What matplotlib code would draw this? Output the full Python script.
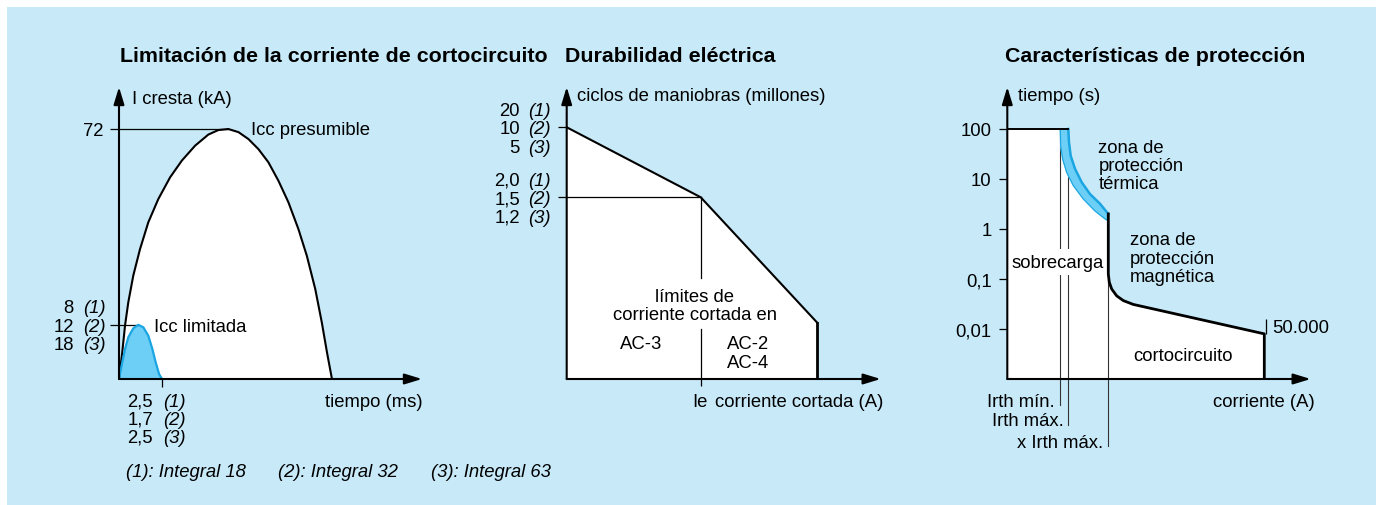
import matplotlib
matplotlib.use('Agg')
import matplotlib.pyplot as plt
from matplotlib import markers
from matplotlib.patches import Rectangle

W, H = 1382, 506
plt.rcParams['font.family'] = ['Liberation Sans', 'DejaVu Sans']

FS = 13.3      # regular text
FT = 15.4      # titles
BG = '#c7e9f8'
FILL = '#6dcff6'
EDGE = '#1ba6e2'
ROW_DY = [12.5, -6, -24.5]   # three stacked label rows around a tick (pixels)

# --- chart 1: limitación de la corriente de cortocircuito (ms / kA)
t_presumed = [0, 0.19, 0.35, 0.54, 0.83, 1.22, 1.70, 2.28, 2.97, 3.65, 4.42, 5.19, 5.77,
              6.35, 6.94, 7.52, 8.10, 8.68, 9.26, 9.84, 10.42, 10.91, 11.40, 11.78,
              12.08, 12.37]
i_presumed = [0, 7.7, 15.4, 22.1, 29.8, 37.4, 45.1, 51.8, 58.1, 62.9, 67.2, 70.4, 71.7,
              72.0, 71.1, 69.1, 66.2, 62.4, 57.1, 50.9, 43.2, 35.5, 25.9, 16.3, 7.7, 0]
t_limited = [0, 0.19, 0.35, 0.54, 0.83, 1.12, 1.41, 1.70, 1.94, 2.13, 2.33, 2.50]
i_limited = [0, 4.8, 8.6, 12.0, 14.6, 15.6, 14.9, 12.5, 8.6, 4.8, 1.4, 0]
peak_labels = ['8', '12', '18']
cut_labels = ['2,5', '1,7', '2,5']
ref_labels = ['(1)', '(2)', '(3)']
footnotes = ['(1): Integral 18', '(2): Integral 32', '(3): Integral 63']

# --- chart 2: durabilidad eléctrica (Ie multiples / millones de ciclos)
ie_pts = [0, 1.0, 1.87]
cycles_pts = [10, 1.5, 0.05]
top_labels = ['20', '10', '5']
knee_labels = ['2,0', '1,5', '1,2']

# --- chart 3: características de protección (relative current / s)
time_ticks = [100, 10, 1, 0.1, 0.01]
time_labels = ['100', '10', '1', '0,1', '0,01']
irth_min, irth_max, i_mag, i_cu = 5.3, 6.1, 10.1, 25.7
therm_lo_x = [5.3, 5.34, 5.54, 5.94, 6.6, 7.6, 8.77, 9.77, 10.1]
therm_lo_t = [100, 46, 25, 13.6, 7.4, 4.0, 2.3, 1.6, 1.45]
therm_hi_x = [6.1, 6.17, 6.34, 6.77, 7.44, 8.27, 9.27, 10.1]
therm_hi_t = [100, 54, 29, 16, 8.6, 5.0, 3.2, 2.0]
mag_x = [10.1, 10.1, 10.2, 10.44, 10.94, 11.6, 12.6, 25.7, 25.7]
mag_t = [2.0, 0.126, 0.086, 0.063, 0.046, 0.037, 0.031, 0.008, 0.001]


def panel(left, right, bottom, top):
    ax = fig.add_axes([left / W, 1 - bottom / H, (right - left) / W, (bottom - top) / H])
    ax.axis('off')
    return ax


def note(ax, x, y, s, dx=0, dy=0, ha='left', style='normal', size=FS, **kw):
    ax.annotate(s, (x, y), xytext=(dx, dy), textcoords='offset pixels', ha=ha,
                va='baseline', fontsize=size, fontstyle=style, annotation_clip=False, **kw)


def rows(ax, x, y, lines, dx=0, dy=0, step=18.3, **kw):
    for k, s in enumerate(lines):
        note(ax, x, y, s, dx, dy - k * step, **kw)


def stacked(ax, x, y, nums, dx_num, dx_ref, dys):
    for n, r, d in zip(nums, ref_labels, dys):
        note(ax, x, y, n, dx_num, d, ha='right')
        note(ax, x, y, r, dx_ref, d, style='italic')


def arrows(ax):
    x0, x1 = ax.get_xlim()
    y0, y1 = ax.get_ylim()
    kw = dict(arrowstyle='-|>,head_length=1.05,head_width=0.32', color='black', lw=1.5,
              shrinkA=0, shrinkB=0, mutation_scale=10)
    ax.annotate('', xy=(x1, y0), xytext=(x0, y0), arrowprops=kw, annotation_clip=False, zorder=6)
    ax.annotate('', xy=(x0, y1), xytext=(x0, y0), arrowprops=kw, annotation_clip=False, zorder=6)


def drop(ax, x, y, px):
    X, Y = ax.transData.transform((x, y))
    return ax.transData.inverted().transform((X, Y - px))[1]


fig = plt.figure(figsize=(W / 100, H / 100), dpi=100)
fig.patch.set_facecolor('white')
fig.patches.append(Rectangle((7 / W, 0), (1376 - 7) / W, 1 - 8 / H, transform=fig.transFigure,
                             facecolor=BG, edgecolor='none', zorder=-5))

# ---------------- chart 1
ax1 = panel(119, 422, 380, 88)
ax1.set_xlim(0, 17.6)
ax1.set_ylim(0, 84.1)
ax1.fill(t_presumed, i_presumed, color='white', zorder=1)
ax1.plot(t_presumed, i_presumed, color='black', lw=1.5, zorder=3, solid_joinstyle='round')
ax1.fill(t_limited, i_limited, color=FILL, zorder=2)
ax1.plot(t_limited, i_limited, color=EDGE, lw=1.6, zorder=3, solid_joinstyle='round')
k_pk = i_presumed.index(max(i_presumed))
k_lim = i_limited.index(max(i_limited))
ax1.plot([0, t_presumed[k_pk]], [i_presumed[k_pk]] * 2, color='black', lw=0.9, zorder=2)
ax1.plot([0, t_limited[k_lim]], [i_limited[k_lim]] * 2, color='black', lw=0.9, zorder=2)
for v in (i_presumed[k_pk], i_limited[k_lim]):
    ax1.plot([0], [v], marker=markers.TICKLEFT, ms=6.5, mew=0.9, color='black', clip_on=False)
ax1.plot([t_limited[-1]], [0], marker=markers.TICKDOWN, ms=6, mew=0.9, color='black', clip_on=False)
arrows(ax1)
note(ax1, 0, 84.1, 'I cresta (kA)', 13, -16)
note(ax1, 0, i_presumed[k_pk], '72', -16, -6, ha='right')
stacked(ax1, 0, i_limited[k_lim], peak_labels, -45, -36, ROW_DY)
stacked(ax1, t_limited[-1], 0, cut_labels, -9, 1, [-27, -45, -63])
note(ax1, 17.6, 0, 'tiempo (ms)', 1, -27, ha='right')
note(ax1, t_presumed[k_pk], i_presumed[k_pk], 'Icc presumible', 23, -5)
note(ax1, t_limited[k_lim], i_limited[k_lim], 'Icc limitada', 16, -6)
for xp, s in zip([126, 278, 431], footnotes):
    fig.text(xp / W, 1 - 477 / H, s, fontsize=FS, fontstyle='italic', va='baseline')

# ---------------- chart 2
ax2 = panel(566.7, 880.7, 380, 88)
ax2.set_yscale('log')
ax2.set_xlim(0, 2.343)
ax2.set_ylim(0.01089, 29.8)
y_lo = ax2.get_ylim()[0]
ax2.fill([0] + ie_pts + [ie_pts[-1]], [y_lo] + cycles_pts + [y_lo], color='white', zorder=1)
ax2.plot(ie_pts, cycles_pts, color='black', lw=1.5, zorder=3)
ax2.plot([ie_pts[-1]] * 2, [cycles_pts[-1], y_lo], color='black', lw=2, zorder=3)
ax2.plot([0, ie_pts[1]], [cycles_pts[1]] * 2, color='black', lw=0.9, zorder=2)
ax2.plot([ie_pts[1]] * 2, [cycles_pts[1], 0.168], color='black', lw=0.9, zorder=2)
ax2.plot([ie_pts[1]] * 2, [0.0423, y_lo], color='black', lw=0.9, zorder=2)
ax2.plot([ie_pts[1]], [y_lo], marker=markers.TICKDOWN, ms=5.2, mew=0.9, color='black', clip_on=False)
for v in cycles_pts[:2]:
    ax2.plot([0], [v], marker=markers.TICKLEFT, ms=6.3, mew=0.9, color='black', clip_on=False)
arrows(ax2)
note(ax2, 0, 29.8, 'ciclos de maniobras (millones)', 10.3, -13)
stacked(ax2, 0, cycles_pts[0], top_labels, -46.7, -38.7, ROW_DY)
stacked(ax2, 0, cycles_pts[1], knee_labels, -46.7, -38.7, ROW_DY)
note(ax2, ie_pts[1], y_lo, 'Ie', -1, -27, ha='center')
note(ax2, 2.343, y_lo, 'corriente cortada (A)', 2.6, -27, ha='right')
rows(ax2, 0.957, 0.0903, ['límites de', 'corriente cortada en'], ha='center')
note(ax2, 0.554, 0.0252, 'AC-3', ha='center')
rows(ax2, 1.353, 0.0252, ['AC-2', 'AC-4'], step=19, ha='center')

# ---------------- chart 3
ax3 = panel(1007.3, 1310.7, 380, 88)
ax3.set_yscale('log')
ax3.set_xlim(0, 30.34)
ax3.set_ylim(0.001, 692)
t_lo = ax3.get_ylim()[0]
wx = [0, 0] + therm_lo_x + mag_x[1:]
wy = [t_lo, 100] + therm_lo_t + mag_t[1:]
ax3.fill(wx, wy, color='white', zorder=1)
ax3.fill(therm_lo_x + therm_hi_x[::-1], therm_lo_t + therm_hi_t[::-1], color=FILL, zorder=2)
ax3.plot(therm_hi_x, therm_hi_t, color=EDGE, lw=1.8, zorder=3)
ax3.plot(therm_lo_x, therm_lo_t, color=EDGE, lw=0.8, zorder=3)
ax3.plot([0, irth_max], [100, 100], color='black', lw=1.4, zorder=4)
ax3.plot(mag_x, mag_t, color='black', lw=2, zorder=5, solid_joinstyle='round')
for xv, px in ((irth_min, 26), (irth_max, 46)):
    ax3.plot([xv, xv], [100, drop(ax3, xv, t_lo, px)], color='#333333', lw=0.8,
             zorder=1.5, clip_on=False)
ax3.plot([i_mag, i_mag], [mag_t[0], drop(ax3, i_mag, t_lo, 66.7)], color='#333333', lw=0.8,
         zorder=1.5, clip_on=False)
ax3.plot([i_cu + 0.13], [mag_t[-2]], marker=markers.TICKUP, ms=11, mew=0.9, color='black',
         clip_on=False)
for v, s in zip(time_ticks, time_labels):
    ax3.plot([0], [v], marker=markers.TICKLEFT, ms=6, mew=0.9, color='black', clip_on=False)
    note(ax3, 0, v, s, -15.6, -6, ha='right')
arrows(ax3)
note(ax3, 0, 692, 'tiempo (s)', 10.4, -13)
rows(ax3, 9.1, 35.2, ['zona de', 'protección', 'térmica'])
rows(ax3, 12.27, 0.494, ['zona de', 'protección', 'magnética'])
note(ax3, 5.04, 0.176, 'sobrecarga', ha='center', zorder=4,
     bbox=dict(facecolor='white', edgecolor='none', pad=3))
note(ax3, 17.6, 0.0024, 'cortocircuito', ha='center')
note(ax3, i_cu, mag_t[-2], '50.000', 8, 2.3)
note(ax3, 30.34, t_lo, 'corriente (A)', 4.3, -26.7, ha='right')
note(ax3, irth_min, t_lo, 'Irth mín.', -5.3, -26.7, ha='right')
note(ax3, irth_max, t_lo, 'Irth máx.', -5, -46, ha='right')
note(ax3, i_mag, t_lo, 'x Irth máx.', -5, -67.7, ha='right')

# ---------------- titles
for xp, s in zip([120, 565, 1005], ['Limitación de la corriente de cortocircuito',
                                    'Durabilidad eléctrica', 'Características de protección']):
    fig.text(xp / W, 1 - 62.5 / H, s, fontsize=FT, fontweight='bold', va='baseline')

fig.savefig('out.png', dpi=100, facecolor=fig.get_facecolor())
